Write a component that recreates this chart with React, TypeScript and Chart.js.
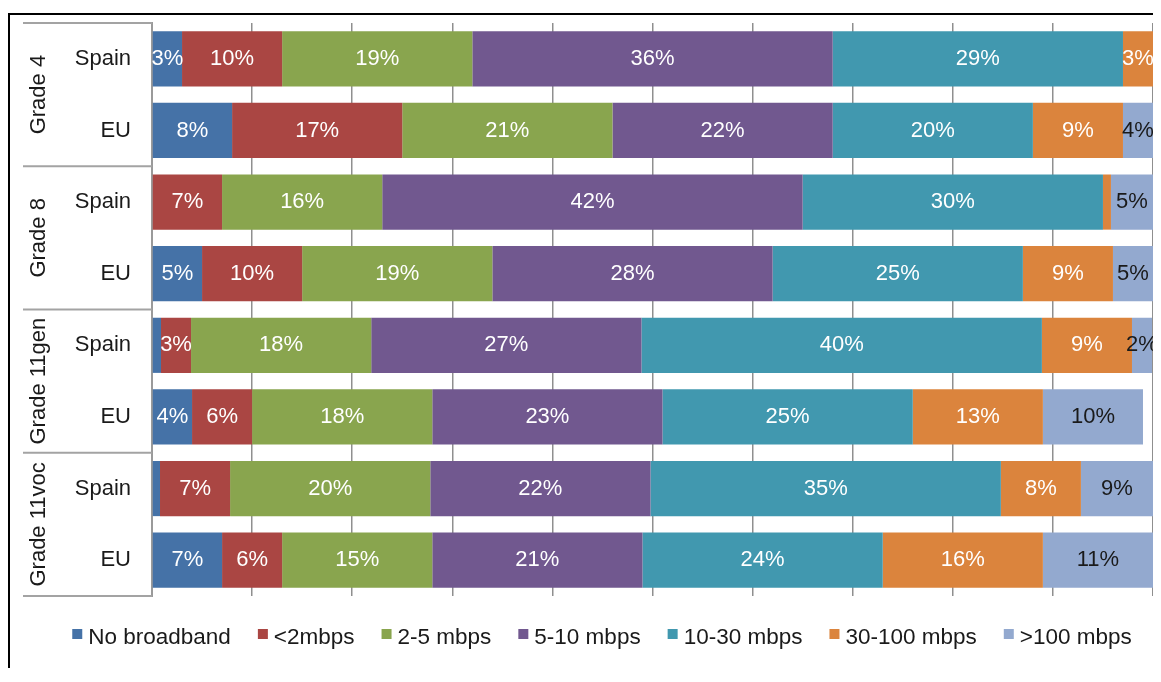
import React, { useEffect, useRef } from "react";
import { Chart, registerables } from "chart.js";

Chart.register(...registerables);

// Rows: each grade has a Spain bar and an EU bar
const rowLabels = ["Spain", "EU", "Spain", "EU", "Spain", "EU", "Spain", "EU"];
const gradeLabels = ["Grade 4", "Grade 8", "Grade 11gen", "Grade 11voc"];

// Connection speed categories (share of students, %)
const speedLabels = [
  "No broadband",
  "<2mbps",
  "2-5 mbps",
  "5-10 mbps",
  "10-30 mbps",
  "30-100 mbps",
  ">100 mbps",
];
const noBroadband = [3, 8, 0, 5, 0.9, 4, 0.8, 7];
const below2 = [10, 17, 7, 10, 3, 6, 7, 6];
const from2to5 = [19, 21, 16, 19, 18, 18, 20, 15];
const from5to10 = [36, 22, 42, 28, 27, 23, 22, 21];
const from10to30 = [29, 20, 30, 25, 40, 25, 35, 24];
const from30to100 = [3, 9, 0.8, 9, 9, 13, 8, 16];
const above100 = [0, 4, 5, 5, 2, 10, 9, 11];

const speedColors = ["#4572A7", "#AA4643", "#89A54E", "#71588F", "#4198AF", "#DB843D", "#93A9CF"];
const labelColors = ["#ffffff", "#ffffff", "#ffffff", "#ffffff", "#ffffff", "#ffffff", "#1a1a1a"];

const FONT = '"Liberation Sans", Arial, Helvetica, sans-serif';
const CANVAS_W = 1151;
const CANVAS_H = 653;

// Percent labels centred on each visible segment
const segmentLabels = {
  id: "segmentLabels",
  afterDatasetsDraw(chart: any) {
    const { ctx, chartArea } = chart;
    ctx.save();
    ctx.font = `22px ${FONT}`;
    ctx.textAlign = "center";
    ctx.textBaseline = "middle";
    chart.data.datasets.forEach((ds: any, di: number) => {
      const meta = chart.getDatasetMeta(di);
      meta.data.forEach((bar: any, i: number) => {
        const v = ds.data[i];
        if (v < 2) return;
        const start = Math.min(bar.base, bar.x);
        const end = Math.min(Math.max(bar.base, bar.x), chartArea.right);
        ctx.fillStyle = labelColors[di];
        ctx.fillText(`${Math.round(v)}%`, (start + end) / 2, bar.y);
      });
    });
    ctx.restore();
  },
};

// Grade column, table rules on the left, and the legend row underneath
const sideAndLegend = {
  id: "sideAndLegend",
  afterDraw(chart: any) {
    const { ctx, chartArea } = chart;
    const y = chart.scales.y;
    ctx.save();

    // horizontal rules separating the grade groups
    const bounds: number[] = [chartArea.top];
    for (let g = 0; g < gradeLabels.length - 1; g++) {
      bounds.push((y.getPixelForValue(2 * g + 1) + y.getPixelForValue(2 * g + 2)) / 2);
    }
    bounds.push(chartArea.bottom);
    ctx.strokeStyle = "#a3a3a3";
    ctx.lineWidth = 2;
    bounds.forEach((b) => {
      ctx.beginPath();
      ctx.moveTo(13, b);
      ctx.lineTo(chartArea.left, b);
      ctx.stroke();
    });

    // rotated grade names
    ctx.fillStyle = "#1a1a1a";
    ctx.font = `22px ${FONT}`;
    ctx.textAlign = "center";
    ctx.textBaseline = "alphabetic";
    gradeLabels.forEach((name, g) => {
      const cy = (y.getPixelForValue(2 * g) + y.getPixelForValue(2 * g + 1)) / 2;
      ctx.save();
      ctx.translate(35, cy);
      ctx.rotate(-Math.PI / 2);
      ctx.fillText(name, 0, 0);
      ctx.restore();
    });

    // legend
    const box = 10;
    const gap = 6;
    const spacing = 27;
    ctx.font = `22.5px ${FONT}`;
    ctx.textAlign = "left";
    const items = chart.data.datasets.map((ds: any) => ({
      text: ds.label as string,
      color: ds.backgroundColor as string,
      w: ctx.measureText(ds.label).width,
    }));
    const total =
      items.reduce((s: number, it: any) => s + box + gap + it.w, 0) + spacing * (items.length - 1);
    let x = 592 - total / 2;
    const baseline = chartArea.bottom + 48;
    items.forEach((it: any) => {
      ctx.fillStyle = it.color;
      ctx.fillRect(x, chartArea.bottom + 33, box, box);
      ctx.fillStyle = "#1a1a1a";
      ctx.fillText(it.text, x + box + gap, baseline);
      x += box + gap + it.w + spacing;
    });

    ctx.restore();
  },
};

export default function App() {
  const canvasRef = useRef<HTMLCanvasElement | null>(null);

  useEffect(() => {
    document.documentElement.style.overflow = "hidden";
    document.body.style.overflow = "hidden";
    const canvas = canvasRef.current;
    if (!canvas) return;

    const series = [noBroadband, below2, from2to5, from5to10, from10to30, from30to100, above100];

    const chart = new Chart(canvas, {
      type: "bar",
      data: {
        labels: rowLabels,
        datasets: series.map((values, i) => ({
          label: speedLabels[i],
          data: values,
          backgroundColor: speedColors[i],
          borderWidth: 0,
          barPercentage: 1,
          categoryPercentage: 0.77,
        })),
      },
      options: {
        animation: false,
        responsive: false,
        indexAxis: "y",
        layout: { padding: { top: 8, right: 8, bottom: 72, left: 0 } },
        plugins: {
          legend: { display: false },
          tooltip: { enabled: false },
          title: { display: false },
        },
        scales: {
          x: {
            stacked: true,
            min: 0,
            max: 100,
            ticks: { display: false, stepSize: 10 },
            grid: { color: "#8f8f8f", lineWidth: 1.5, drawTicks: false },
            border: { display: false },
          },
          y: {
            stacked: true,
            ticks: {
              padding: 21,
              color: "#1a1a1a",
              font: { family: FONT, size: 22 },
            },
            grid: { display: false, drawTicks: false },
            border: { display: true, color: "#9a9a9a", width: 2 },
            afterFit: (scale: any) => {
              scale.width = 142;
              scale.paddingTop = 0;
              scale.paddingBottom = 0;
            },
          },
        },
      } as any,
      plugins: [segmentLabels, sideAndLegend],
    });

    return () => chart.destroy();
  }, []);

  return (
    <div style={{ paddingTop: 5 }}>
      <div
        style={{
          width: 1153,
          height: 655,
          borderLeft: "2px solid #000",
          borderTop: "2px solid #000",
          boxSizing: "border-box",
          overflow: "hidden",
          background: "#fff",
        }}
      >
        <canvas
          ref={canvasRef}
          width={CANVAS_W}
          height={CANVAS_H}
          style={{ display: "block", width: CANVAS_W, height: CANVAS_H }}
        />
      </div>
    </div>
  );
}
